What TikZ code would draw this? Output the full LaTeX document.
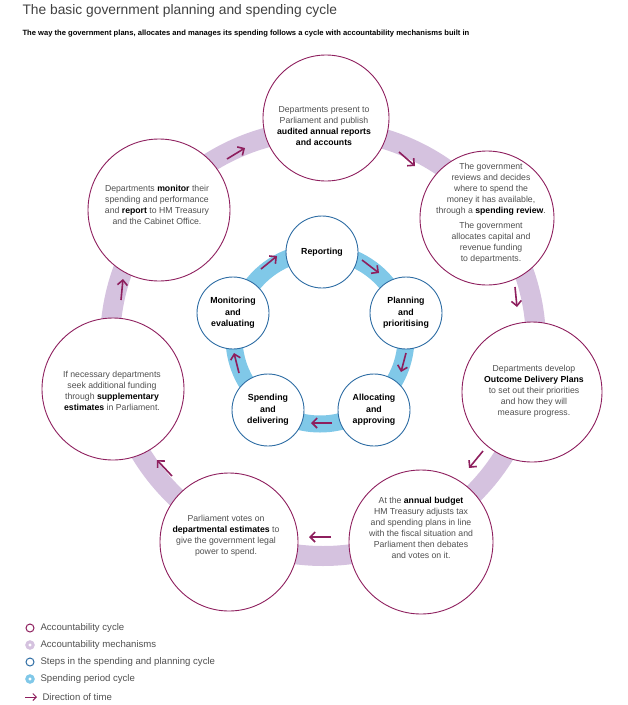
\documentclass[tikz,border=0pt]{standalone}
\usepackage{fontspec}
\setmainfont{Liberation Sans}
\usetikzlibrary{arrows.meta}
\definecolor{pur}{HTML}{8E1F5E}
\definecolor{lpur}{HTML}{D5C2DF}
\definecolor{blu}{HTML}{2E6DA4}
\definecolor{lblu}{HTML}{80C8E8}
\definecolor{txt}{HTML}{505050}
\begin{document}
\begin{tikzpicture}[x=1pt,y=-1pt,
  outer/.style={circle,draw=pur,line width=0.9pt,fill=white,inner sep=0pt},
  inner/.style={circle,draw=blu,line width=0.9pt,fill=white,minimum size=72pt,inner sep=0pt,font=\fontsize{8.8}{11.5}\selectfont\bfseries,align=center,text=black},
  body/.style={font=\fontsize{8.7}{11}\selectfont,align=center,text=txt},
  tarr/.style={draw=pur,line width=1.6pt,-{Straight Barb[length=5pt,width=10pt]}},
  leg/.style={font=\fontsize{9.6}{11}\selectfont,text=txt,anchor=west}]
\useasboundingbox (0,0) rectangle (628,705);
\node[anchor=west,font=\fontsize{13.8}{15}\selectfont,text=txt!80!black] (title) at (19,11) {The basic government planning and spending cycle};
\node[anchor=west,font=\fontsize{7.6}{9}\selectfont\bfseries] (sub) at (19,34) {The way the government plans, allocates and manages its spending follows a cycle with accountability mechanisms built in};
% rings
\draw[lpur,line width=20pt] (323,343) circle (213);
\draw[lblu,line width=17pt] (320,338) circle (86);
% outer circles
\node[outer,minimum size=126pt] (c1) at (326,118) {};
\node[outer,minimum size=134pt] (c2) at (487,218) {};
\node[outer,minimum size=140pt] (c3) at (532,392) {};
\node[outer,minimum size=144pt] (c4) at (421,542) {};
\node[outer,minimum size=138pt] (c5) at (229,542) {};
\node[outer,minimum size=142pt] (c6) at (113,389) {};
\node[outer,minimum size=142pt] (c7) at (159,210) {};
\node[body] (t1) at (324,126) {Departments present to\\Parliament and publish\\\textcolor{black}{\bfseries audited annual reports}\\\textcolor{black}{\bfseries and accounts}};
\node[body] (t2) at (491,213) {The government\\reviews and decides\\where to spend the\\money it has available,\\through a \textcolor{black}{\bfseries spending review}.\\[4pt]The government\\allocates capital and\\revenue funding\\to departments.};
\node[body] (t3) at (534,391) {Departments develop\\\textcolor{black}{\bfseries Outcome Delivery Plans}\\to set out their priorities\\and how they will\\measure progress.};
\node[body] (t4) at (421,528) {At the \textcolor{black}{\bfseries annual budget}\\HM Treasury adjusts tax\\and spending plans in line\\with the fiscal situation and\\Parliament then debates\\and votes on it.};
\node[body] (t5) at (226,536) {Parliament votes on\\\textcolor{black}{\bfseries departmental estimates} to\\give the government legal\\power to spend.};
\node[body] (t6) at (112,391) {If necessary departments\\seek additional funding\\through \textcolor{black}{\bfseries supplementary}\\\textcolor{black}{\bfseries estimates} in Parliament.};
\node[body] (t7) at (157,205) {Departments \textcolor{black}{\bfseries monitor} their\\spending and performance\\and \textcolor{black}{\bfseries report} to HM Treasury\\and the Cabinet Office.};
% inner circles
\node[inner] (i1) at (322,252) {Reporting};
\node[inner] (i2) at (406,313) {Planning\\and\\prioritising};
\node[inner] (i3) at (374,410) {Allocating\\and\\approving};
\node[inner] (i4) at (268,410) {Spending\\and\\delivering};
\node[inner] (i5) at (233,313) {Monitoring\\and\\evaluating};
% outer arrows
\coordinate (a1s) at (227,159); \coordinate (a1e) at (245,148);
\coordinate (a2s) at (399,152); \coordinate (a2e) at (415,166);
\coordinate (a3s) at (515,287); \coordinate (a3e) at (517,307);
\coordinate (a4s) at (483,451); \coordinate (a4e) at (469,468);
\coordinate (a5s) at (331,537); \coordinate (a5e) at (309,537);
\coordinate (a6s) at (172,476); \coordinate (a6e) at (157,460);
\coordinate (a7s) at (121,300); \coordinate (a7e) at (123,279);
\foreach \i in {1,...,7} \draw[tarr] (a\i s) -- (a\i e);
% inner arrows
\coordinate (b1s) at (261,269); \coordinate (b1e) at (277,256);
\coordinate (b2s) at (362,260); \coordinate (b2e) at (379,273);
\coordinate (b3s) at (406,353); \coordinate (b3e) at (401,372);
\coordinate (b4s) at (332,423); \coordinate (b4e) at (311,423);
\coordinate (b5s) at (239,373); \coordinate (b5e) at (234,353);
\foreach \i in {1,...,5} \draw[tarr] (b\i s) -- (b\i e);
% legend
\draw[pur,line width=1pt] (30,628) circle (4);
\node[leg] (l1) at (37,628) {Accountability cycle};
\draw[lpur,line width=3pt] (30,645) circle (3.2);
\node[leg] (l2) at (37,645) {Accountability mechanisms};
\draw[blu,line width=1pt] (30,662) circle (4);
\node[leg] (l3) at (37,662) {Steps in the spending and planning cycle};
\draw[lblu,line width=3pt] (30,679) circle (3.2);
\node[leg] (l4) at (37,679) {Spending period cycle};
\coordinate (ls) at (25,697); \coordinate (le) at (37,697);
\draw[pur,line width=1pt,-{Straight Barb[length=3.5pt,width=7pt]}] (ls) -- (le);
\node[leg] (l5) at (39,697) {Direction of time};
\end{tikzpicture}
\end{document}
